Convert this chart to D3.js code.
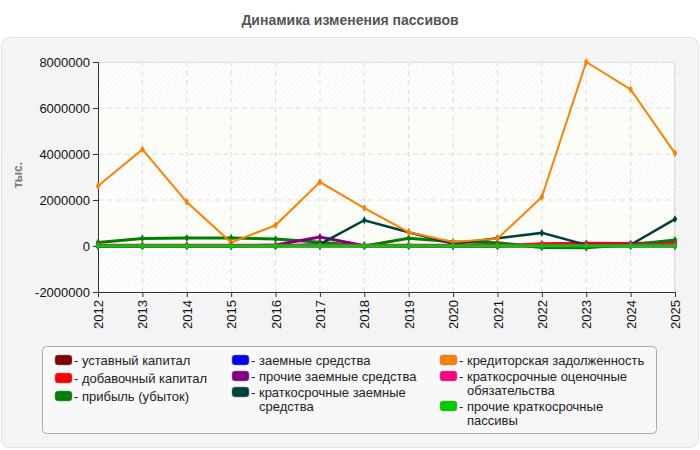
<!DOCTYPE html>
<html>
<head>
<meta charset="utf-8">
<script src="https://cdnjs.cloudflare.com/ajax/libs/d3/7.8.5/d3.min.js"></script>
<style>
  body { margin: 0; background: #fff; font-family: "Liberation Sans", Arial, sans-serif; }
</style>
</head>
<body>
<div id="chart"></div>
<script>
// Data
var years = [2012, 2013, 2014, 2015, 2016, 2017, 2018, 2019, 2020, 2021, 2022, 2023, 2024, 2025];
var yTicks = [-2000000, 0, 2000000, 4000000, 6000000, 8000000];

var ustavnyi     = [10000, 10000, 10000, 10000, 10000, 10000, 10000, 10000, 10000, 10000, 10000, 10000, 10000, 10000];
var dobavochnyi  = [0, 0, 0, 0, 0, 0, 0, 0, 0, 0, 100000, 120000, 110000, 150000];
var pribyl       = [150000, 330000, 350000, 350000, 300000, 160000, 0, 340000, 180000, 140000, -60000, -80000, 60000, 260000];
var zaemnye      = [0, 0, 0, 0, 0, 0, 0, 0, 0, 0, 0, 0, 0, 0];
var prochieZaem  = [0, 0, 0, 0, 40000, 390000, 10000, 0, 0, 0, 0, 0, 0, 0];
var kratkZaem    = [0, 0, 0, 0, 0, 80000, 1120000, 600000, 100000, 340000, 570000, 50000, 50000, 1170000];
var kreditor     = [2610000, 4200000, 1910000, 150000, 900000, 2780000, 1650000, 600000, 170000, 320000, 2130000, 8000000, 6810000, 4030000];
var ocenochnye   = [50000, 50000, 50000, 50000, 50000, 50000, 50000, 50000, 50000, 50000, 50000, 50000, 60000, 90000];
var prochieKratk = [0, 0, 0, 0, 0, 0, 0, 0, 0, 0, 0, 0, 0, 0];

var series = [
  { name: "уставный капитал", values: ustavnyi, color: "#800000", w: 2.5 },
  { name: "добавочный капитал", values: dobavochnyi, color: "#ff0000", w: 3 },
  { name: "прибыль (убыток)", values: pribyl, color: "#008000", w: 3 },
  { name: "заемные средства", values: zaemnye, color: "#0000ff", w: 2.5 },
  { name: "прочие заемные средства", values: prochieZaem, color: "#800080", w: 3 },
  { name: "краткосрочные заемные средства", values: kratkZaem, color: "#004040", w: 2.5 },
  { name: "кредиторская задолженность", values: kreditor, color: "#ff8000", w: 2 },
  { name: "краткосрочные оценочные обязательства", values: ocenochnye, color: "#ff0080", w: 2 },
  { name: "прочие краткосрочные пассивы", values: prochieKratk, color: "#00cc00", w: 3 }
];

// Legend layout (column, lines of text)
var legendItems = [
  { col: 0, lines: ["- уставный капитал"] },
  { col: 0, lines: ["- добавочный капитал"] },
  { col: 0, lines: ["- прибыль (убыток)"] },
  { col: 1, lines: ["- заемные средства"] },
  { col: 1, lines: ["- прочие заемные средства"] },
  { col: 1, lines: ["- краткосрочные заемные", "средства"] },
  { col: 2, lines: ["- кредиторская задолженность"] },
  { col: 2, lines: ["- краткосрочные оценочные", "обязательства"] },
  { col: 2, lines: ["- прочие краткосрочные", "пассивы"] }
];

var svgWidth = 700;
var svgHeight = 450;
var margin = { top: 62, left: 98, right: 25, bottom: 158 };
var width = svgWidth - margin.left - margin.right;
var height = svgHeight - margin.top - margin.bottom;
var fontFam = "'Liberation Sans', Arial, sans-serif";

var svg = d3.select("#chart")
  .append("svg")
  .attr("width", svgWidth)
  .attr("height", svgHeight)
  .style("font-family", fontFam);

// hatch pattern
var defs = svg.append("defs");
var pat = defs.append("pattern")
  .attr("id", "hatch")
  .attr("patternUnits", "userSpaceOnUse")
  .attr("width", 4)
  .attr("height", 4)
  .attr("patternTransform", "rotate(45)");
pat.append("rect").attr("width", 4).attr("height", 4).attr("fill", "#ffffff");
pat.append("line").attr("x1", 0).attr("y1", 0).attr("x2", 0).attr("y2", 4)
  .attr("stroke", "#eeeeee").attr("stroke-width", 1.2);

// outer panel
svg.append("rect")
  .attr("x", 1.5).attr("y", 37.5)
  .attr("width", 697).attr("height", 410)
  .attr("rx", 8)
  .attr("fill", "#f4f4f4")
  .attr("stroke", "#e2e2e2");

// title
svg.append("text")
  .attr("x", 350).attr("y", 25)
  .attr("text-anchor", "middle")
  .attr("font-size", "14px")
  .attr("font-weight", "bold")
  .attr("fill", "#555")
  .text("Динамика изменения пассивов");

var chartGroup = svg.append("g")
  .attr("transform", `translate(${margin.left}, ${margin.top})`);

var xScale = d3.scaleLinear()
  .domain([years[0], years[years.length - 1]])
  .range([0, width]);

var yScale = d3.scaleLinear()
  .domain([-2000000, 8000000])
  .range([height, 0]);

// background bands
var bands = d3.pairs(yTicks);
chartGroup.selectAll(".band")
  .data(bands)
  .enter()
  .append("rect")
  .attr("x", 0)
  .attr("y", d => yScale(d[1]))
  .attr("width", width)
  .attr("height", d => yScale(d[0]) - yScale(d[1]))
  .attr("fill", (d, i) => i % 2 === 0 ? "url(#hatch)" : "#fdfdf7");

// grid
chartGroup.append("g")
  .selectAll("line")
  .data(years.slice(1))
  .enter()
  .append("line")
  .attr("x1", d => xScale(d)).attr("x2", d => xScale(d))
  .attr("y1", 0).attr("y2", height)
  .attr("stroke", "#dcdcdc")
  .attr("stroke-dasharray", "5,4");

chartGroup.append("g")
  .selectAll("line")
  .data(yTicks.slice(1, -1))
  .enter()
  .append("line")
  .attr("x1", 0).attr("x2", width)
  .attr("y1", d => yScale(d)).attr("y2", d => yScale(d))
  .attr("stroke", "#dcdcdc")
  .attr("stroke-dasharray", "5,4");

// top & right border
chartGroup.append("path")
  .attr("d", `M0,0.5H${width - 0.5}V${height}`)
  .attr("fill", "none")
  .attr("stroke", "#dcdcdc");

// axes
var leftAxis = d3.axisLeft(yScale).tickValues(yTicks).tickSize(5).tickFormat(d => String(d));
var bottomAxis = d3.axisBottom(xScale).tickValues(years).tickSize(5).tickFormat(d => String(d));

var yAxis = chartGroup.append("g").call(leftAxis);
yAxis.attr("font-family", fontFam);
yAxis.selectAll("text")
  .attr("font-size", "13px")
  .attr("fill", "#111");

var xAxis = chartGroup.append("g")
  .attr("transform", `translate(0, ${height})`)
  .call(bottomAxis);
xAxis.attr("font-family", fontFam);
xAxis.selectAll("text")
  .attr("font-size", "13px")
  .attr("fill", "#111")
  .attr("transform", "rotate(-90)")
  .attr("text-anchor", "end")
  .attr("x", -8)
  .attr("y", 0)
  .attr("dy", "0.35em");
chartGroup.selectAll(".domain").attr("stroke", "#333");
chartGroup.selectAll(".tick line").attr("stroke", "#333");

// y axis label
svg.append("text")
  .attr("transform", "translate(22, 175) rotate(-90)")
  .attr("text-anchor", "middle")
  .attr("font-size", "12px")
  .attr("font-weight", "bold")
  .attr("fill", "#777")
  .text("тыс.");

// lines
var line = d3.line()
  .x((d, i) => xScale(years[i]))
  .y(d => yScale(d));

var lineGroup = chartGroup.append("g");
series.forEach(function(s) {
  lineGroup.append("path")
    .datum(s.values)
    .attr("d", line)
    .attr("fill", "none")
    .attr("stroke", s.color)
    .attr("stroke-width", s.w);
  lineGroup.append("g")
    .selectAll("path")
    .data(s.values)
    .enter()
    .append("path")
    .attr("transform", (d, i) => `translate(${xScale(years[i])}, ${yScale(d)})`)
    .attr("d", d3.symbol().type(d3.symbolDiamond).size(18))
    .attr("fill", s.color);
});

// legend
var legend = svg.append("g");
legend.append("rect")
  .attr("x", 42.5).attr("y", 346.5)
  .attr("width", 614).attr("height", 87)
  .attr("rx", 4)
  .attr("fill", "#f8f8f8")
  .attr("stroke", "#aaa");

var colX = [55, 232, 440];
var colGap = [4, 2, 2];
var colY = [0, 0, 0];
legendItems.forEach(function(item, i) {
  var x = colX[item.col];
  var y = 360 + colY[item.col];
  legend.append("rect")
    .attr("x", x).attr("y", y - 5)
    .attr("width", 17).attr("height", 10)
    .attr("rx", 3)
    .attr("fill", series[i].color)
    .attr("stroke", "#888")
    .attr("stroke-width", 0.5);
  item.lines.forEach(function(t, j) {
    legend.append("text")
      .attr("x", j === 0 ? x + 19 : x + 27)
      .attr("y", y + j * 14)
      .attr("dy", "0.35em")
      .attr("font-size", "13px")
      .attr("fill", "#222")
      .text(t);
  });
  colY[item.col] += colGap[item.col] + item.lines.length * 14;
});
</script>
</body>
</html>
